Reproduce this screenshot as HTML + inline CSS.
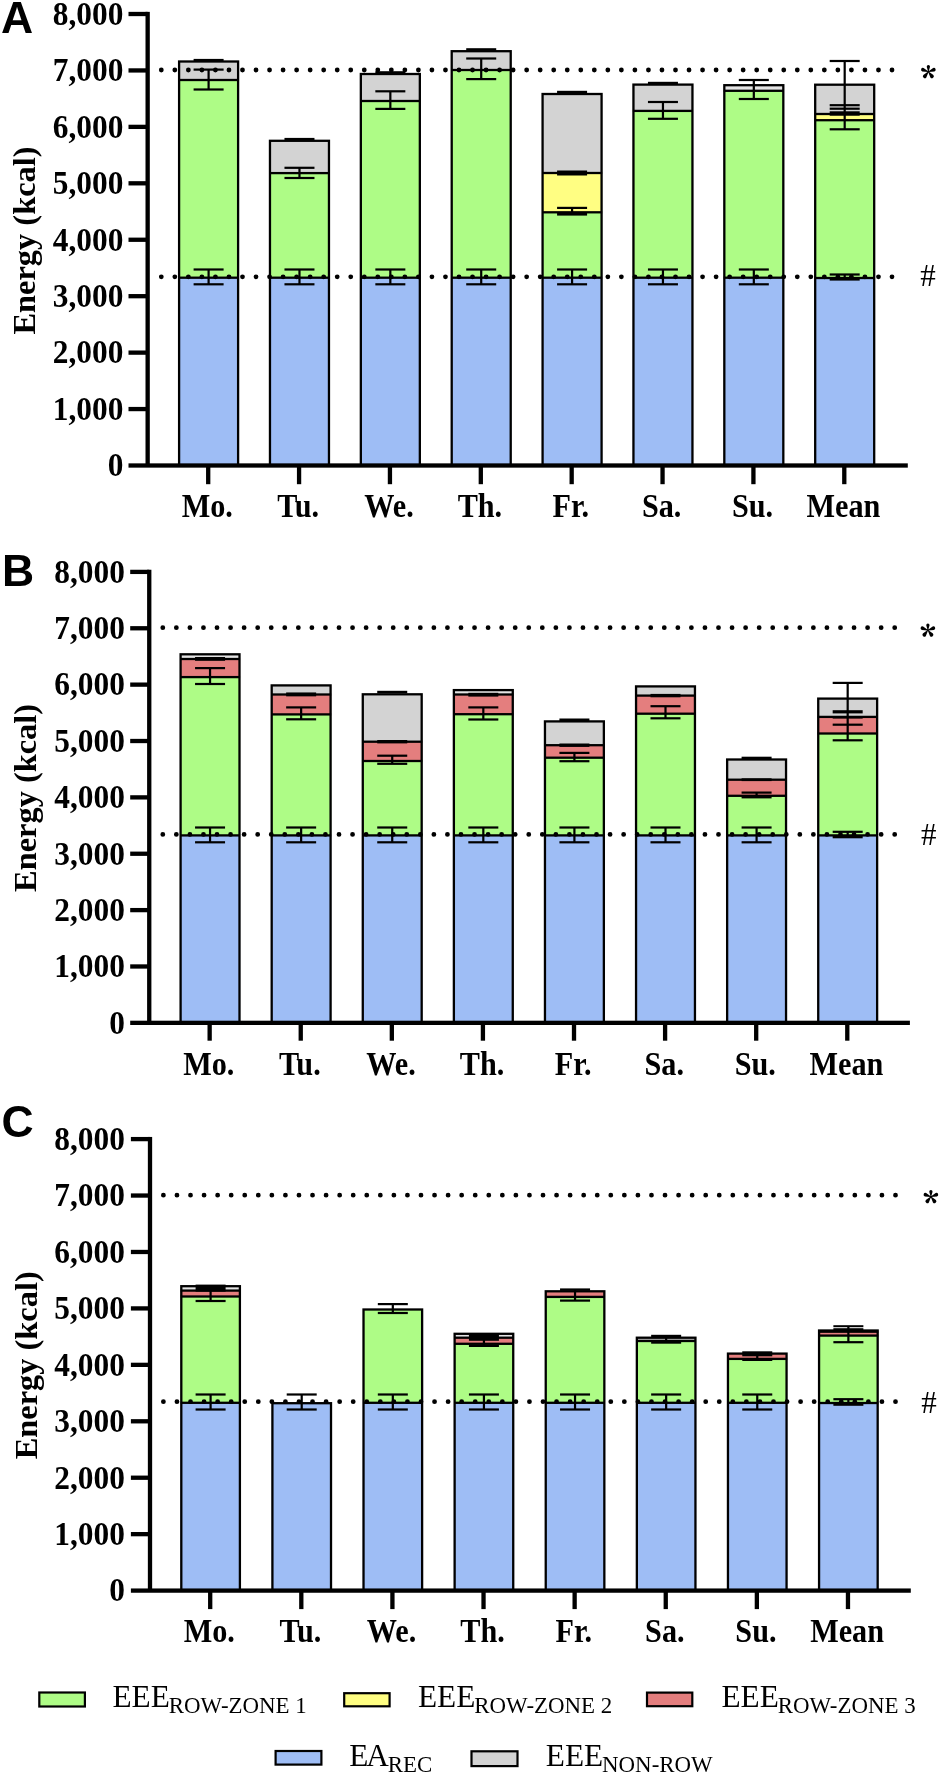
<!DOCTYPE html>
<html><head><meta charset="utf-8"><style>
html,body{margin:0;padding:0;background:#fff;}
svg{display:block;will-change:transform;}
.tl{font-family:"Liberation Serif",serif;font-weight:bold;font-size:32px;}
.xl{font-family:"Liberation Serif",serif;font-weight:bold;font-size:32px;}
.yt{font-family:"Liberation Serif",serif;font-weight:bold;font-size:32.4px;}
.pl{font-family:"Liberation Sans",sans-serif;font-weight:bold;font-size:44.5px;}
.sy{font-family:"Liberation Serif",serif;font-size:31px;}
.lg{font-family:"Liberation Serif",serif;font-size:31.3px;}
.lgs{font-size:22.9px;}
</style></head><body>
<svg width="941" height="1776" viewBox="0 0 941 1776">
<rect x="0" y="0" width="941" height="1776" fill="#fff"/>
<rect x="178.55" y="277.7" width="60.1" height="187.8" fill="#9ebdf5"/>
<rect x="178.55" y="80" width="60.1" height="197.7" fill="#aefc86"/>
<rect x="178.55" y="61.5" width="60.1" height="18.5" fill="#d3d3d3"/>
<rect x="178.55" y="276.55" width="60.1" height="2.3" fill="#000"/>
<rect x="178.55" y="78.85" width="60.1" height="2.3" fill="#000"/>
<rect x="179.1" y="61.5" width="59" height="404" fill="none" stroke="#000" stroke-width="2.3"/>
<rect x="207.5" y="69.6" width="2.2" height="19.9" fill="#000"/>
<rect x="207.5" y="269.5" width="2.2" height="14.8" fill="#000"/>
<rect x="193.6" y="58.9" width="30" height="2.6" fill="#000"/>
<rect x="193.6" y="68.5" width="30" height="2.2" fill="#000"/>
<rect x="193.6" y="88.4" width="30" height="2.2" fill="#000"/>
<rect x="193.6" y="268.4" width="30" height="2.2" fill="#000"/>
<rect x="193.6" y="283.2" width="30" height="2.2" fill="#000"/>
<rect x="269.42" y="277.7" width="60.1" height="187.8" fill="#9ebdf5"/>
<rect x="269.42" y="173.1" width="60.1" height="104.6" fill="#aefc86"/>
<rect x="269.42" y="140.8" width="60.1" height="32.3" fill="#d3d3d3"/>
<rect x="269.42" y="276.55" width="60.1" height="2.3" fill="#000"/>
<rect x="269.42" y="171.95" width="60.1" height="2.3" fill="#000"/>
<rect x="269.97" y="140.8" width="59" height="324.7" fill="none" stroke="#000" stroke-width="2.3"/>
<rect x="298.37" y="167.8" width="2.2" height="10.2" fill="#000"/>
<rect x="298.37" y="269.5" width="2.2" height="14.8" fill="#000"/>
<rect x="284.47" y="137.9" width="30" height="2.6" fill="#000"/>
<rect x="284.47" y="166.7" width="30" height="2.2" fill="#000"/>
<rect x="284.47" y="176.9" width="30" height="2.2" fill="#000"/>
<rect x="284.47" y="268.4" width="30" height="2.2" fill="#000"/>
<rect x="284.47" y="283.2" width="30" height="2.2" fill="#000"/>
<rect x="360.29" y="277.7" width="60.1" height="187.8" fill="#9ebdf5"/>
<rect x="360.29" y="101" width="60.1" height="176.7" fill="#aefc86"/>
<rect x="360.29" y="74" width="60.1" height="27" fill="#d3d3d3"/>
<rect x="360.29" y="276.55" width="60.1" height="2.3" fill="#000"/>
<rect x="360.29" y="99.85" width="60.1" height="2.3" fill="#000"/>
<rect x="360.84" y="74" width="59" height="391.5" fill="none" stroke="#000" stroke-width="2.3"/>
<rect x="389.24" y="91.3" width="2.2" height="17.6" fill="#000"/>
<rect x="389.24" y="269.5" width="2.2" height="14.8" fill="#000"/>
<rect x="375.34" y="71.2" width="30" height="2.6" fill="#000"/>
<rect x="375.34" y="90.2" width="30" height="2.2" fill="#000"/>
<rect x="375.34" y="107.8" width="30" height="2.2" fill="#000"/>
<rect x="375.34" y="268.4" width="30" height="2.2" fill="#000"/>
<rect x="375.34" y="283.2" width="30" height="2.2" fill="#000"/>
<rect x="451.16" y="277.7" width="60.1" height="187.8" fill="#9ebdf5"/>
<rect x="451.16" y="70" width="60.1" height="207.7" fill="#aefc86"/>
<rect x="451.16" y="51.2" width="60.1" height="18.8" fill="#d3d3d3"/>
<rect x="451.16" y="276.55" width="60.1" height="2.3" fill="#000"/>
<rect x="451.16" y="68.85" width="60.1" height="2.3" fill="#000"/>
<rect x="451.71" y="51.2" width="59" height="414.3" fill="none" stroke="#000" stroke-width="2.3"/>
<rect x="480.11" y="58.5" width="2.2" height="20.6" fill="#000"/>
<rect x="480.11" y="269.5" width="2.2" height="14.8" fill="#000"/>
<rect x="466.21" y="48.2" width="30" height="2.6" fill="#000"/>
<rect x="466.21" y="57.4" width="30" height="2.2" fill="#000"/>
<rect x="466.21" y="78" width="30" height="2.2" fill="#000"/>
<rect x="466.21" y="268.4" width="30" height="2.2" fill="#000"/>
<rect x="466.21" y="283.2" width="30" height="2.2" fill="#000"/>
<rect x="542.03" y="277.7" width="60.1" height="187.8" fill="#9ebdf5"/>
<rect x="542.03" y="212.3" width="60.1" height="65.4" fill="#aefc86"/>
<rect x="542.03" y="173" width="60.1" height="39.3" fill="#fffe82"/>
<rect x="542.03" y="94" width="60.1" height="79" fill="#d3d3d3"/>
<rect x="542.03" y="276.55" width="60.1" height="2.3" fill="#000"/>
<rect x="542.03" y="211.15" width="60.1" height="2.3" fill="#000"/>
<rect x="542.03" y="171.85" width="60.1" height="2.3" fill="#000"/>
<rect x="542.58" y="94" width="59" height="371.5" fill="none" stroke="#000" stroke-width="2.3"/>
<rect x="570.98" y="207.9" width="2.2" height="6.2" fill="#000"/>
<rect x="570.98" y="269.5" width="2.2" height="14.8" fill="#000"/>
<rect x="557.08" y="90.8" width="30" height="3.6" fill="#000"/>
<rect x="557.08" y="170.5" width="30" height="5" fill="#000"/>
<rect x="557.08" y="206.8" width="30" height="2.2" fill="#000"/>
<rect x="557.08" y="212.6" width="30" height="3" fill="#000"/>
<rect x="557.08" y="268.4" width="30" height="2.2" fill="#000"/>
<rect x="557.08" y="283.2" width="30" height="2.2" fill="#000"/>
<rect x="632.9" y="277.7" width="60.1" height="187.8" fill="#9ebdf5"/>
<rect x="632.9" y="110.9" width="60.1" height="166.8" fill="#aefc86"/>
<rect x="632.9" y="84.6" width="60.1" height="26.3" fill="#d3d3d3"/>
<rect x="632.9" y="276.55" width="60.1" height="2.3" fill="#000"/>
<rect x="632.9" y="109.75" width="60.1" height="2.3" fill="#000"/>
<rect x="633.45" y="84.6" width="59" height="380.9" fill="none" stroke="#000" stroke-width="2.3"/>
<rect x="661.85" y="102" width="2.2" height="16.8" fill="#000"/>
<rect x="661.85" y="269.5" width="2.2" height="14.8" fill="#000"/>
<rect x="647.95" y="81.8" width="30" height="2.6" fill="#000"/>
<rect x="647.95" y="100.9" width="30" height="2.2" fill="#000"/>
<rect x="647.95" y="117.7" width="30" height="2.2" fill="#000"/>
<rect x="647.95" y="268.4" width="30" height="2.2" fill="#000"/>
<rect x="647.95" y="283.2" width="30" height="2.2" fill="#000"/>
<rect x="723.77" y="277.7" width="60.1" height="187.8" fill="#9ebdf5"/>
<rect x="723.77" y="90.8" width="60.1" height="186.9" fill="#aefc86"/>
<rect x="723.77" y="85.2" width="60.1" height="5.6" fill="#e4e4e4"/>
<rect x="723.77" y="276.55" width="60.1" height="2.3" fill="#000"/>
<rect x="723.77" y="89.65" width="60.1" height="2.3" fill="#000"/>
<rect x="724.32" y="85.2" width="59" height="380.3" fill="none" stroke="#000" stroke-width="2.3"/>
<rect x="752.72" y="80" width="2.2" height="19" fill="#000"/>
<rect x="752.72" y="269.5" width="2.2" height="14.8" fill="#000"/>
<rect x="738.82" y="78.9" width="30" height="2.2" fill="#000"/>
<rect x="738.82" y="97.9" width="30" height="2.2" fill="#000"/>
<rect x="738.82" y="268.4" width="30" height="2.2" fill="#000"/>
<rect x="738.82" y="283.2" width="30" height="2.2" fill="#000"/>
<rect x="814.64" y="278" width="60.1" height="187.5" fill="#9ebdf5"/>
<rect x="814.64" y="120.2" width="60.1" height="157.8" fill="#aefc86"/>
<rect x="814.64" y="114" width="60.1" height="6.2" fill="#fffe82"/>
<rect x="814.64" y="84.7" width="60.1" height="29.3" fill="#d3d3d3"/>
<rect x="814.64" y="276.85" width="60.1" height="2.3" fill="#000"/>
<rect x="814.64" y="119.05" width="60.1" height="2.3" fill="#000"/>
<rect x="814.64" y="112.85" width="60.1" height="2.3" fill="#000"/>
<rect x="815.19" y="84.7" width="59" height="380.8" fill="none" stroke="#000" stroke-width="2.3"/>
<rect x="843.59" y="61" width="2.2" height="68.3" fill="#000"/>
<rect x="843.59" y="274.5" width="2.2" height="4.8" fill="#000"/>
<rect x="829.69" y="59.9" width="30" height="2.2" fill="#000"/>
<rect x="829.69" y="104.1" width="30" height="2.2" fill="#000"/>
<rect x="829.69" y="107.6" width="30" height="2.2" fill="#000"/>
<rect x="829.69" y="111.3" width="30" height="4.4" fill="#000"/>
<rect x="829.69" y="128.2" width="30" height="2.2" fill="#000"/>
<rect x="829.69" y="273.4" width="30" height="2.2" fill="#000"/>
<rect x="829.69" y="278" width="30" height="2.6" fill="#000"/>
<path d="M161.3 70h0M174.83 70h0M188.36 70h0M201.89 70h0M215.43 70h0M228.96 70h0M242.49 70h0M256.02 70h0M269.55 70h0M283.08 70h0M296.61 70h0M310.15 70h0M323.68 70h0M337.21 70h0M350.74 70h0M364.27 70h0M377.8 70h0M391.34 70h0M404.87 70h0M418.4 70h0M431.93 70h0M445.46 70h0M458.99 70h0M472.52 70h0M486.06 70h0M499.59 70h0M513.12 70h0M526.65 70h0M540.18 70h0M553.71 70h0M567.24 70h0M580.78 70h0M594.31 70h0M607.84 70h0M621.37 70h0M634.9 70h0M648.43 70h0M661.96 70h0M675.5 70h0M689.03 70h0M702.56 70h0M716.09 70h0M729.62 70h0M743.15 70h0M756.69 70h0M770.22 70h0M783.75 70h0M797.28 70h0M810.81 70h0M824.34 70h0M837.87 70h0M851.41 70h0M864.94 70h0M878.47 70h0M892 70h0" stroke="#000" stroke-width="4.8" stroke-linecap="round"/>
<path d="M161.3 276.8h0M174.83 276.8h0M188.36 276.8h0M201.89 276.8h0M215.43 276.8h0M228.96 276.8h0M242.49 276.8h0M256.02 276.8h0M269.55 276.8h0M283.08 276.8h0M296.61 276.8h0M310.15 276.8h0M323.68 276.8h0M337.21 276.8h0M350.74 276.8h0M364.27 276.8h0M377.8 276.8h0M391.34 276.8h0M404.87 276.8h0M418.4 276.8h0M431.93 276.8h0M445.46 276.8h0M458.99 276.8h0M472.52 276.8h0M486.06 276.8h0M499.59 276.8h0M513.12 276.8h0M526.65 276.8h0M540.18 276.8h0M553.71 276.8h0M567.24 276.8h0M580.78 276.8h0M594.31 276.8h0M607.84 276.8h0M621.37 276.8h0M634.9 276.8h0M648.43 276.8h0M661.96 276.8h0M675.5 276.8h0M689.03 276.8h0M702.56 276.8h0M716.09 276.8h0M729.62 276.8h0M743.15 276.8h0M756.69 276.8h0M770.22 276.8h0M783.75 276.8h0M797.28 276.8h0M810.81 276.8h0M824.34 276.8h0M837.87 276.8h0M851.41 276.8h0M864.94 276.8h0M878.47 276.8h0M892 276.8h0" stroke="#000" stroke-width="4.8" stroke-linecap="round"/>
<rect x="145.5" y="11.85" width="4.3" height="453.65" fill="#000"/>
<rect x="128.5" y="463.35" width="779.3" height="4.3" fill="#000"/>
<rect x="128.5" y="406.91" width="19.15" height="4.3" fill="#000"/>
<rect x="128.5" y="350.48" width="19.15" height="4.3" fill="#000"/>
<rect x="128.5" y="294.04" width="19.15" height="4.3" fill="#000"/>
<rect x="128.5" y="237.6" width="19.15" height="4.3" fill="#000"/>
<rect x="128.5" y="181.16" width="19.15" height="4.3" fill="#000"/>
<rect x="128.5" y="124.72" width="19.15" height="4.3" fill="#000"/>
<rect x="128.5" y="68.29" width="19.15" height="4.3" fill="#000"/>
<rect x="128.5" y="11.85" width="19.15" height="4.3" fill="#000"/>
<text class="tl" x="0" y="0" text-anchor="end" transform="translate(123.4 476.3) scale(0.98 1.035)">0</text>
<text class="tl" x="0" y="0" text-anchor="end" transform="translate(123.4 419.86) scale(0.98 1.035)">1,000</text>
<text class="tl" x="0" y="0" text-anchor="end" transform="translate(123.4 363.43) scale(0.98 1.035)">2,000</text>
<text class="tl" x="0" y="0" text-anchor="end" transform="translate(123.4 306.99) scale(0.98 1.035)">3,000</text>
<text class="tl" x="0" y="0" text-anchor="end" transform="translate(123.4 250.55) scale(0.98 1.035)">4,000</text>
<text class="tl" x="0" y="0" text-anchor="end" transform="translate(123.4 194.11) scale(0.98 1.035)">5,000</text>
<text class="tl" x="0" y="0" text-anchor="end" transform="translate(123.4 137.68) scale(0.98 1.035)">6,000</text>
<text class="tl" x="0" y="0" text-anchor="end" transform="translate(123.4 81.24) scale(0.98 1.035)">7,000</text>
<text class="tl" x="0" y="0" text-anchor="end" transform="translate(123.4 24.8) scale(0.98 1.035)">8,000</text>
<rect x="206.05" y="465.5" width="4.3" height="18.7" fill="#000"/>
<text class="xl" x="0" y="0" text-anchor="middle" transform="translate(207.3 516.9) scale(0.945 1.035)">Mo.</text>
<rect x="296.92" y="465.5" width="4.3" height="18.7" fill="#000"/>
<text class="xl" x="0" y="0" text-anchor="middle" transform="translate(298.17 516.9) scale(0.945 1.035)">Tu.</text>
<rect x="387.79" y="465.5" width="4.3" height="18.7" fill="#000"/>
<text class="xl" x="0" y="0" text-anchor="middle" transform="translate(389.04 516.9) scale(0.945 1.035)">We.</text>
<rect x="478.66" y="465.5" width="4.3" height="18.7" fill="#000"/>
<text class="xl" x="0" y="0" text-anchor="middle" transform="translate(479.91 516.9) scale(0.945 1.035)">Th.</text>
<rect x="569.53" y="465.5" width="4.3" height="18.7" fill="#000"/>
<text class="xl" x="0" y="0" text-anchor="middle" transform="translate(570.78 516.9) scale(0.945 1.035)">Fr.</text>
<rect x="660.4" y="465.5" width="4.3" height="18.7" fill="#000"/>
<text class="xl" x="0" y="0" text-anchor="middle" transform="translate(661.65 516.9) scale(0.945 1.035)">Sa.</text>
<rect x="751.27" y="465.5" width="4.3" height="18.7" fill="#000"/>
<text class="xl" x="0" y="0" text-anchor="middle" transform="translate(752.52 516.9) scale(0.945 1.035)">Su.</text>
<rect x="842.14" y="465.5" width="4.3" height="18.7" fill="#000"/>
<text class="xl" x="0" y="0" text-anchor="middle" transform="translate(843.39 516.9) scale(0.945 1.035)">Mean</text>
<text class="yt" x="0" y="0" text-anchor="middle" transform="translate(34.6 240.5) rotate(-90)">Energy (kcal)</text>
<text class="pl" x="1" y="33">A</text>
<path d="M928.62 71.73L930.02 66.73A1.65 1.65 0 0 0 928.37 65.08A1.65 1.65 0 0 0 926.72 66.73L928.12 71.73ZM928.46 71.96L934.42 71.55A1.9 1.9 0 0 0 935.56 69.11A1.9 1.9 0 0 0 933.12 67.98L928.28 71.5ZM928.46 71.5L923.62 67.98A1.9 1.9 0 0 0 921.18 69.11A1.9 1.9 0 0 0 922.32 71.55L928.28 71.96ZM928.17 71.88L930.41 77.43A1.9 1.9 0 0 0 933.08 77.76A1.9 1.9 0 0 0 933.41 75.09L928.57 71.58ZM928.17 71.58L923.33 75.09A1.9 1.9 0 0 0 923.66 77.76A1.9 1.9 0 0 0 926.33 77.43L928.57 71.88Z" fill="#000"/>
<text class="sy" x="928" y="285.5" text-anchor="middle">#</text>
<rect x="180.05" y="835.4" width="60" height="187.45" fill="#9ebdf5"/>
<rect x="180.05" y="677.1" width="60" height="158.3" fill="#aefc86"/>
<rect x="180.05" y="659" width="60" height="18.1" fill="#e47e7e"/>
<rect x="180.05" y="654.3" width="60" height="4.7" fill="#e4e4e4"/>
<rect x="180.05" y="834.25" width="60" height="2.3" fill="#000"/>
<rect x="180.05" y="675.95" width="60" height="2.3" fill="#000"/>
<rect x="180.05" y="657.85" width="60" height="2.3" fill="#000"/>
<rect x="180.6" y="654.3" width="58.9" height="368.55" fill="none" stroke="#000" stroke-width="2.3"/>
<rect x="208.95" y="668.1" width="2.2" height="15.9" fill="#000"/>
<rect x="208.95" y="827.5" width="2.2" height="14.8" fill="#000"/>
<rect x="195.05" y="657" width="30" height="3.8" fill="#000"/>
<rect x="195.05" y="667" width="30" height="2.2" fill="#000"/>
<rect x="195.05" y="682.9" width="30" height="2.2" fill="#000"/>
<rect x="195.05" y="826.4" width="30" height="2.2" fill="#000"/>
<rect x="195.05" y="841.2" width="30" height="2.2" fill="#000"/>
<rect x="271.14" y="835.4" width="60" height="187.45" fill="#9ebdf5"/>
<rect x="271.14" y="714.4" width="60" height="121" fill="#aefc86"/>
<rect x="271.14" y="694.5" width="60" height="19.9" fill="#e47e7e"/>
<rect x="271.14" y="685.4" width="60" height="9.1" fill="#d3d3d3"/>
<rect x="271.14" y="834.25" width="60" height="2.3" fill="#000"/>
<rect x="271.14" y="713.25" width="60" height="2.3" fill="#000"/>
<rect x="271.14" y="693.35" width="60" height="2.3" fill="#000"/>
<rect x="271.69" y="685.4" width="58.9" height="337.45" fill="none" stroke="#000" stroke-width="2.3"/>
<rect x="300.04" y="707.4" width="2.2" height="11.9" fill="#000"/>
<rect x="300.04" y="827.5" width="2.2" height="14.8" fill="#000"/>
<rect x="286.14" y="692.45" width="30" height="3.9" fill="#000"/>
<rect x="286.14" y="706.3" width="30" height="2.2" fill="#000"/>
<rect x="286.14" y="718.2" width="30" height="2.2" fill="#000"/>
<rect x="286.14" y="826.4" width="30" height="2.2" fill="#000"/>
<rect x="286.14" y="841.2" width="30" height="2.2" fill="#000"/>
<rect x="362.23" y="835.4" width="60" height="187.45" fill="#9ebdf5"/>
<rect x="362.23" y="761" width="60" height="74.4" fill="#aefc86"/>
<rect x="362.23" y="741.7" width="60" height="19.3" fill="#e47e7e"/>
<rect x="362.23" y="694.3" width="60" height="47.4" fill="#d3d3d3"/>
<rect x="362.23" y="834.25" width="60" height="2.3" fill="#000"/>
<rect x="362.23" y="759.85" width="60" height="2.3" fill="#000"/>
<rect x="362.23" y="740.55" width="60" height="2.3" fill="#000"/>
<rect x="362.78" y="694.3" width="58.9" height="328.55" fill="none" stroke="#000" stroke-width="2.3"/>
<rect x="391.13" y="755.7" width="2.2" height="8.1" fill="#000"/>
<rect x="391.13" y="827.5" width="2.2" height="14.8" fill="#000"/>
<rect x="377.23" y="690.8" width="30" height="2.6" fill="#000"/>
<rect x="377.23" y="740" width="30" height="3.4" fill="#000"/>
<rect x="377.23" y="754.6" width="30" height="2.2" fill="#000"/>
<rect x="377.23" y="762.7" width="30" height="2.2" fill="#000"/>
<rect x="377.23" y="826.4" width="30" height="2.2" fill="#000"/>
<rect x="377.23" y="841.2" width="30" height="2.2" fill="#000"/>
<rect x="453.32" y="835.4" width="60" height="187.45" fill="#9ebdf5"/>
<rect x="453.32" y="714.2" width="60" height="121.2" fill="#aefc86"/>
<rect x="453.32" y="694.5" width="60" height="19.7" fill="#e47e7e"/>
<rect x="453.32" y="690.1" width="60" height="4.4" fill="#e4e4e4"/>
<rect x="453.32" y="834.25" width="60" height="2.3" fill="#000"/>
<rect x="453.32" y="713.05" width="60" height="2.3" fill="#000"/>
<rect x="453.32" y="693.35" width="60" height="2.3" fill="#000"/>
<rect x="453.87" y="690.1" width="58.9" height="332.75" fill="none" stroke="#000" stroke-width="2.3"/>
<rect x="482.22" y="707.4" width="2.2" height="12.1" fill="#000"/>
<rect x="482.22" y="827.5" width="2.2" height="14.8" fill="#000"/>
<rect x="468.32" y="692.8" width="30" height="3.8" fill="#000"/>
<rect x="468.32" y="706.3" width="30" height="2.2" fill="#000"/>
<rect x="468.32" y="718.4" width="30" height="2.2" fill="#000"/>
<rect x="468.32" y="826.4" width="30" height="2.2" fill="#000"/>
<rect x="468.32" y="841.2" width="30" height="2.2" fill="#000"/>
<rect x="544.41" y="835.4" width="60" height="187.45" fill="#9ebdf5"/>
<rect x="544.41" y="757.7" width="60" height="77.7" fill="#aefc86"/>
<rect x="544.41" y="745.2" width="60" height="12.5" fill="#e47e7e"/>
<rect x="544.41" y="721.4" width="60" height="23.8" fill="#d3d3d3"/>
<rect x="544.41" y="834.25" width="60" height="2.3" fill="#000"/>
<rect x="544.41" y="756.55" width="60" height="2.3" fill="#000"/>
<rect x="544.41" y="744.05" width="60" height="2.3" fill="#000"/>
<rect x="544.96" y="721.4" width="58.9" height="301.45" fill="none" stroke="#000" stroke-width="2.3"/>
<rect x="573.31" y="752.9" width="2.2" height="8.3" fill="#000"/>
<rect x="573.31" y="827.5" width="2.2" height="14.8" fill="#000"/>
<rect x="559.41" y="718.5" width="30" height="2.6" fill="#000"/>
<rect x="559.41" y="743.5" width="30" height="3.4" fill="#000"/>
<rect x="559.41" y="751.8" width="30" height="2.2" fill="#000"/>
<rect x="559.41" y="760.1" width="30" height="2.2" fill="#000"/>
<rect x="559.41" y="826.4" width="30" height="2.2" fill="#000"/>
<rect x="559.41" y="841.2" width="30" height="2.2" fill="#000"/>
<rect x="635.5" y="835.4" width="60" height="187.45" fill="#9ebdf5"/>
<rect x="635.5" y="713.7" width="60" height="121.7" fill="#aefc86"/>
<rect x="635.5" y="695.6" width="60" height="18.1" fill="#e47e7e"/>
<rect x="635.5" y="686.4" width="60" height="9.2" fill="#d3d3d3"/>
<rect x="635.5" y="834.25" width="60" height="2.3" fill="#000"/>
<rect x="635.5" y="712.55" width="60" height="2.3" fill="#000"/>
<rect x="635.5" y="694.45" width="60" height="2.3" fill="#000"/>
<rect x="636.05" y="686.4" width="58.9" height="336.45" fill="none" stroke="#000" stroke-width="2.3"/>
<rect x="664.4" y="706.2" width="2.2" height="12.1" fill="#000"/>
<rect x="664.4" y="827.5" width="2.2" height="14.8" fill="#000"/>
<rect x="650.5" y="693.9" width="30" height="3.4" fill="#000"/>
<rect x="650.5" y="705.1" width="30" height="2.2" fill="#000"/>
<rect x="650.5" y="717.2" width="30" height="2.2" fill="#000"/>
<rect x="650.5" y="826.4" width="30" height="2.2" fill="#000"/>
<rect x="650.5" y="841.2" width="30" height="2.2" fill="#000"/>
<rect x="726.59" y="835.4" width="60" height="187.45" fill="#9ebdf5"/>
<rect x="726.59" y="795.8" width="60" height="39.6" fill="#aefc86"/>
<rect x="726.59" y="779.7" width="60" height="16.1" fill="#e47e7e"/>
<rect x="726.59" y="759.5" width="60" height="20.2" fill="#d3d3d3"/>
<rect x="726.59" y="834.25" width="60" height="2.3" fill="#000"/>
<rect x="726.59" y="794.65" width="60" height="2.3" fill="#000"/>
<rect x="726.59" y="778.55" width="60" height="2.3" fill="#000"/>
<rect x="727.14" y="759.5" width="58.9" height="263.35" fill="none" stroke="#000" stroke-width="2.3"/>
<rect x="755.49" y="792.6" width="2.2" height="4.7" fill="#000"/>
<rect x="755.49" y="827.5" width="2.2" height="14.8" fill="#000"/>
<rect x="741.59" y="756.7" width="30" height="2.6" fill="#000"/>
<rect x="741.59" y="778.3" width="30" height="2.8" fill="#000"/>
<rect x="741.59" y="791.5" width="30" height="2.2" fill="#000"/>
<rect x="741.59" y="796.2" width="30" height="2.2" fill="#000"/>
<rect x="741.59" y="826.4" width="30" height="2.2" fill="#000"/>
<rect x="741.59" y="841.2" width="30" height="2.2" fill="#000"/>
<rect x="817.68" y="835.4" width="60" height="187.45" fill="#9ebdf5"/>
<rect x="817.68" y="733.5" width="60" height="101.9" fill="#aefc86"/>
<rect x="817.68" y="716.9" width="60" height="16.6" fill="#e47e7e"/>
<rect x="817.68" y="698.6" width="60" height="18.3" fill="#d3d3d3"/>
<rect x="817.68" y="834.25" width="60" height="2.3" fill="#000"/>
<rect x="817.68" y="732.35" width="60" height="2.3" fill="#000"/>
<rect x="817.68" y="715.75" width="60" height="2.3" fill="#000"/>
<rect x="818.23" y="698.6" width="58.9" height="324.25" fill="none" stroke="#000" stroke-width="2.3"/>
<rect x="846.58" y="682.9" width="2.2" height="57.4" fill="#000"/>
<rect x="846.58" y="831.8" width="2.2" height="5.2" fill="#000"/>
<rect x="832.68" y="681.8" width="30" height="2.2" fill="#000"/>
<rect x="832.68" y="710.2" width="30" height="3.2" fill="#000"/>
<rect x="832.68" y="716" width="30" height="2.6" fill="#000"/>
<rect x="832.68" y="723.6" width="30" height="2.2" fill="#000"/>
<rect x="832.68" y="739.2" width="30" height="2.2" fill="#000"/>
<rect x="832.68" y="830.7" width="30" height="2.2" fill="#000"/>
<rect x="832.68" y="835.7" width="30" height="2.6" fill="#000"/>
<path d="M162.8 627.7h0M176.35 627.7h0M189.91 627.7h0M203.46 627.7h0M217.01 627.7h0M230.57 627.7h0M244.12 627.7h0M257.68 627.7h0M271.23 627.7h0M284.78 627.7h0M298.34 627.7h0M311.89 627.7h0M325.44 627.7h0M339 627.7h0M352.55 627.7h0M366.11 627.7h0M379.66 627.7h0M393.21 627.7h0M406.77 627.7h0M420.32 627.7h0M433.87 627.7h0M447.43 627.7h0M460.98 627.7h0M474.54 627.7h0M488.09 627.7h0M501.64 627.7h0M515.2 627.7h0M528.75 627.7h0M542.3 627.7h0M555.86 627.7h0M569.41 627.7h0M582.96 627.7h0M596.52 627.7h0M610.07 627.7h0M623.63 627.7h0M637.18 627.7h0M650.73 627.7h0M664.29 627.7h0M677.84 627.7h0M691.39 627.7h0M704.95 627.7h0M718.5 627.7h0M732.06 627.7h0M745.61 627.7h0M759.16 627.7h0M772.72 627.7h0M786.27 627.7h0M799.82 627.7h0M813.38 627.7h0M826.93 627.7h0M840.49 627.7h0M854.04 627.7h0M867.59 627.7h0M881.15 627.7h0M894.7 627.7h0" stroke="#000" stroke-width="4.8" stroke-linecap="round"/>
<path d="M162.8 834.4h0M176.35 834.4h0M189.91 834.4h0M203.46 834.4h0M217.01 834.4h0M230.57 834.4h0M244.12 834.4h0M257.68 834.4h0M271.23 834.4h0M284.78 834.4h0M298.34 834.4h0M311.89 834.4h0M325.44 834.4h0M339 834.4h0M352.55 834.4h0M366.11 834.4h0M379.66 834.4h0M393.21 834.4h0M406.77 834.4h0M420.32 834.4h0M433.87 834.4h0M447.43 834.4h0M460.98 834.4h0M474.54 834.4h0M488.09 834.4h0M501.64 834.4h0M515.2 834.4h0M528.75 834.4h0M542.3 834.4h0M555.86 834.4h0M569.41 834.4h0M582.96 834.4h0M596.52 834.4h0M610.07 834.4h0M623.63 834.4h0M637.18 834.4h0M650.73 834.4h0M664.29 834.4h0M677.84 834.4h0M691.39 834.4h0M704.95 834.4h0M718.5 834.4h0M732.06 834.4h0M745.61 834.4h0M759.16 834.4h0M772.72 834.4h0M786.27 834.4h0M799.82 834.4h0M813.38 834.4h0M826.93 834.4h0M840.49 834.4h0M854.04 834.4h0M867.59 834.4h0M881.15 834.4h0M894.7 834.4h0" stroke="#000" stroke-width="4.8" stroke-linecap="round"/>
<rect x="147.1" y="569.75" width="4.3" height="453.1" fill="#000"/>
<rect x="130.2" y="1020.7" width="779.7" height="4.3" fill="#000"/>
<rect x="130.2" y="964.33" width="19.05" height="4.3" fill="#000"/>
<rect x="130.2" y="907.96" width="19.05" height="4.3" fill="#000"/>
<rect x="130.2" y="851.59" width="19.05" height="4.3" fill="#000"/>
<rect x="130.2" y="795.23" width="19.05" height="4.3" fill="#000"/>
<rect x="130.2" y="738.86" width="19.05" height="4.3" fill="#000"/>
<rect x="130.2" y="682.49" width="19.05" height="4.3" fill="#000"/>
<rect x="130.2" y="626.12" width="19.05" height="4.3" fill="#000"/>
<rect x="130.2" y="569.75" width="19.05" height="4.3" fill="#000"/>
<text class="tl" x="0" y="0" text-anchor="end" transform="translate(124.9 1033.65) scale(0.98 1.035)">0</text>
<text class="tl" x="0" y="0" text-anchor="end" transform="translate(124.9 977.28) scale(0.98 1.035)">1,000</text>
<text class="tl" x="0" y="0" text-anchor="end" transform="translate(124.9 920.91) scale(0.98 1.035)">2,000</text>
<text class="tl" x="0" y="0" text-anchor="end" transform="translate(124.9 864.54) scale(0.98 1.035)">3,000</text>
<text class="tl" x="0" y="0" text-anchor="end" transform="translate(124.9 808.17) scale(0.98 1.035)">4,000</text>
<text class="tl" x="0" y="0" text-anchor="end" transform="translate(124.9 751.81) scale(0.98 1.035)">5,000</text>
<text class="tl" x="0" y="0" text-anchor="end" transform="translate(124.9 695.44) scale(0.98 1.035)">6,000</text>
<text class="tl" x="0" y="0" text-anchor="end" transform="translate(124.9 639.07) scale(0.98 1.035)">7,000</text>
<text class="tl" x="0" y="0" text-anchor="end" transform="translate(124.9 582.7) scale(0.98 1.035)">8,000</text>
<rect x="207.5" y="1022.85" width="4.3" height="17.85" fill="#000"/>
<text class="xl" x="0" y="0" text-anchor="middle" transform="translate(208.75 1074.8) scale(0.945 1.035)">Mo.</text>
<rect x="298.59" y="1022.85" width="4.3" height="17.85" fill="#000"/>
<text class="xl" x="0" y="0" text-anchor="middle" transform="translate(299.84 1074.8) scale(0.945 1.035)">Tu.</text>
<rect x="389.68" y="1022.85" width="4.3" height="17.85" fill="#000"/>
<text class="xl" x="0" y="0" text-anchor="middle" transform="translate(390.93 1074.8) scale(0.945 1.035)">We.</text>
<rect x="480.77" y="1022.85" width="4.3" height="17.85" fill="#000"/>
<text class="xl" x="0" y="0" text-anchor="middle" transform="translate(482.02 1074.8) scale(0.945 1.035)">Th.</text>
<rect x="571.86" y="1022.85" width="4.3" height="17.85" fill="#000"/>
<text class="xl" x="0" y="0" text-anchor="middle" transform="translate(573.11 1074.8) scale(0.945 1.035)">Fr.</text>
<rect x="662.95" y="1022.85" width="4.3" height="17.85" fill="#000"/>
<text class="xl" x="0" y="0" text-anchor="middle" transform="translate(664.2 1074.8) scale(0.945 1.035)">Sa.</text>
<rect x="754.04" y="1022.85" width="4.3" height="17.85" fill="#000"/>
<text class="xl" x="0" y="0" text-anchor="middle" transform="translate(755.29 1074.8) scale(0.945 1.035)">Su.</text>
<rect x="845.13" y="1022.85" width="4.3" height="17.85" fill="#000"/>
<text class="xl" x="0" y="0" text-anchor="middle" transform="translate(846.38 1074.8) scale(0.945 1.035)">Mean</text>
<text class="yt" x="0" y="0" text-anchor="middle" transform="translate(36.2 797.9) rotate(-90)">Energy (kcal)</text>
<text class="pl" x="2" y="586">B</text>
<path d="M928.15 630.2L929.55 625.2A1.65 1.65 0 0 0 927.9 623.55A1.65 1.65 0 0 0 926.25 625.2L927.65 630.2ZM927.99 630.43L933.95 630.02A1.9 1.9 0 0 0 935.09 627.58A1.9 1.9 0 0 0 932.65 626.45L927.81 629.97ZM927.99 629.97L923.15 626.45A1.9 1.9 0 0 0 920.71 627.58A1.9 1.9 0 0 0 921.85 630.02L927.81 630.43ZM927.7 630.35L929.94 635.9A1.9 1.9 0 0 0 932.61 636.23A1.9 1.9 0 0 0 932.94 633.56L928.1 630.05ZM927.7 630.05L922.86 633.56A1.9 1.9 0 0 0 923.19 636.23A1.9 1.9 0 0 0 925.86 635.9L928.1 630.35Z" fill="#000"/>
<text class="sy" x="928.8" y="844.8" text-anchor="middle">#</text>
<rect x="180.75" y="1402.8" width="59.7" height="187.8" fill="#9ebdf5"/>
<rect x="180.75" y="1296.5" width="59.7" height="106.3" fill="#aefc86"/>
<rect x="180.75" y="1290.6" width="59.7" height="5.9" fill="#e47e7e"/>
<rect x="180.75" y="1286.2" width="59.7" height="4.4" fill="#e4e4e4"/>
<rect x="180.75" y="1401.65" width="59.7" height="2.3" fill="#000"/>
<rect x="180.75" y="1295.35" width="59.7" height="2.3" fill="#000"/>
<rect x="180.75" y="1289.45" width="59.7" height="2.3" fill="#000"/>
<rect x="181.3" y="1286.2" width="58.6" height="304.4" fill="none" stroke="#000" stroke-width="2.3"/>
<rect x="209.5" y="1288.1" width="2.2" height="12.9" fill="#000"/>
<rect x="209.5" y="1394.5" width="2.2" height="15" fill="#000"/>
<rect x="195.6" y="1284.6" width="30" height="7" fill="#000"/>
<rect x="195.6" y="1299.9" width="30" height="2.2" fill="#000"/>
<rect x="195.6" y="1393.4" width="30" height="2.2" fill="#000"/>
<rect x="195.6" y="1408.4" width="30" height="2.2" fill="#000"/>
<rect x="271.86" y="1403.2" width="59.7" height="187.4" fill="#9ebdf5"/>
<rect x="272.41" y="1403.2" width="58.6" height="187.4" fill="none" stroke="#000" stroke-width="2.3"/>
<rect x="300.61" y="1394.5" width="2.2" height="15" fill="#000"/>
<rect x="286.71" y="1393.4" width="30" height="2.2" fill="#000"/>
<rect x="286.71" y="1408.4" width="30" height="2.2" fill="#000"/>
<rect x="362.97" y="1402.8" width="59.7" height="187.8" fill="#9ebdf5"/>
<rect x="362.97" y="1309.5" width="59.7" height="93.3" fill="#aefc86"/>
<rect x="362.97" y="1401.65" width="59.7" height="2.3" fill="#000"/>
<rect x="363.52" y="1309.5" width="58.6" height="281.1" fill="none" stroke="#000" stroke-width="2.3"/>
<rect x="391.72" y="1304.1" width="2.2" height="8.9" fill="#000"/>
<rect x="391.72" y="1394.5" width="2.2" height="15" fill="#000"/>
<rect x="377.82" y="1303" width="30" height="2.2" fill="#000"/>
<rect x="377.82" y="1311.9" width="30" height="2.2" fill="#000"/>
<rect x="377.82" y="1393.4" width="30" height="2.2" fill="#000"/>
<rect x="377.82" y="1408.4" width="30" height="2.2" fill="#000"/>
<rect x="454.08" y="1402.8" width="59.7" height="187.8" fill="#9ebdf5"/>
<rect x="454.08" y="1343.8" width="59.7" height="59" fill="#aefc86"/>
<rect x="454.08" y="1337.7" width="59.7" height="6.1" fill="#e47e7e"/>
<rect x="454.08" y="1333.8" width="59.7" height="3.9" fill="#e4e4e4"/>
<rect x="454.08" y="1401.65" width="59.7" height="2.3" fill="#000"/>
<rect x="454.08" y="1342.65" width="59.7" height="2.3" fill="#000"/>
<rect x="454.08" y="1336.55" width="59.7" height="2.3" fill="#000"/>
<rect x="454.63" y="1333.8" width="58.6" height="256.8" fill="none" stroke="#000" stroke-width="2.3"/>
<rect x="482.83" y="1334" width="2.2" height="12" fill="#000"/>
<rect x="482.83" y="1394.5" width="2.2" height="15" fill="#000"/>
<rect x="468.93" y="1333.6" width="30" height="7.2" fill="#000"/>
<rect x="468.93" y="1344.6" width="30" height="2.4" fill="#000"/>
<rect x="468.93" y="1393.4" width="30" height="2.2" fill="#000"/>
<rect x="468.93" y="1408.4" width="30" height="2.2" fill="#000"/>
<rect x="545.19" y="1402.8" width="59.7" height="187.8" fill="#9ebdf5"/>
<rect x="545.19" y="1296.9" width="59.7" height="105.9" fill="#aefc86"/>
<rect x="545.19" y="1291.3" width="59.7" height="5.6" fill="#e47e7e"/>
<rect x="545.19" y="1401.65" width="59.7" height="2.3" fill="#000"/>
<rect x="545.19" y="1295.75" width="59.7" height="2.3" fill="#000"/>
<rect x="545.74" y="1291.3" width="58.6" height="299.3" fill="none" stroke="#000" stroke-width="2.3"/>
<rect x="573.94" y="1289.6" width="2.2" height="11" fill="#000"/>
<rect x="573.94" y="1394.5" width="2.2" height="15" fill="#000"/>
<rect x="560.04" y="1288.4" width="30" height="2.4" fill="#000"/>
<rect x="560.04" y="1299.5" width="30" height="2.2" fill="#000"/>
<rect x="560.04" y="1393.4" width="30" height="2.2" fill="#000"/>
<rect x="560.04" y="1408.4" width="30" height="2.2" fill="#000"/>
<rect x="636.3" y="1402.8" width="59.7" height="187.8" fill="#9ebdf5"/>
<rect x="636.3" y="1341" width="59.7" height="61.8" fill="#aefc86"/>
<rect x="636.3" y="1337.7" width="59.7" height="3.3" fill="#b4b4b4"/>
<rect x="636.3" y="1401.65" width="59.7" height="2.3" fill="#000"/>
<rect x="636.3" y="1339.85" width="59.7" height="2.3" fill="#000"/>
<rect x="636.85" y="1337.7" width="58.6" height="252.9" fill="none" stroke="#000" stroke-width="2.3"/>
<rect x="665.05" y="1336" width="2.2" height="6.7" fill="#000"/>
<rect x="665.05" y="1394.5" width="2.2" height="15" fill="#000"/>
<rect x="651.15" y="1334.8" width="30" height="2.4" fill="#000"/>
<rect x="651.15" y="1341.7" width="30" height="2" fill="#000"/>
<rect x="651.15" y="1393.4" width="30" height="2.2" fill="#000"/>
<rect x="651.15" y="1408.4" width="30" height="2.2" fill="#000"/>
<rect x="727.41" y="1402.8" width="59.7" height="187.8" fill="#9ebdf5"/>
<rect x="727.41" y="1358.9" width="59.7" height="43.9" fill="#aefc86"/>
<rect x="727.41" y="1353.6" width="59.7" height="5.3" fill="#e47e7e"/>
<rect x="727.41" y="1401.65" width="59.7" height="2.3" fill="#000"/>
<rect x="727.41" y="1357.75" width="59.7" height="2.3" fill="#000"/>
<rect x="727.96" y="1353.6" width="58.6" height="237" fill="none" stroke="#000" stroke-width="2.3"/>
<rect x="756.16" y="1353.6" width="2.2" height="6.4" fill="#000"/>
<rect x="756.16" y="1394.5" width="2.2" height="15" fill="#000"/>
<rect x="742.26" y="1351.3" width="30" height="5" fill="#000"/>
<rect x="742.26" y="1359" width="30" height="2" fill="#000"/>
<rect x="742.26" y="1393.4" width="30" height="2.2" fill="#000"/>
<rect x="742.26" y="1408.4" width="30" height="2.2" fill="#000"/>
<rect x="818.52" y="1403" width="59.7" height="187.6" fill="#9ebdf5"/>
<rect x="818.52" y="1335.6" width="59.7" height="67.4" fill="#aefc86"/>
<rect x="818.52" y="1331.7" width="59.7" height="3.9" fill="#e47e7e"/>
<rect x="818.52" y="1330.5" width="59.7" height="1.2" fill="#b4b4b4"/>
<rect x="818.52" y="1401.85" width="59.7" height="2.3" fill="#000"/>
<rect x="818.52" y="1334.45" width="59.7" height="2.3" fill="#000"/>
<rect x="818.52" y="1330.55" width="59.7" height="2.3" fill="#000"/>
<rect x="819.07" y="1330.5" width="58.6" height="260.1" fill="none" stroke="#000" stroke-width="2.3"/>
<rect x="847.27" y="1326.1" width="2.2" height="16.1" fill="#000"/>
<rect x="847.27" y="1399.2" width="2.2" height="5.3" fill="#000"/>
<rect x="833.37" y="1325.2" width="30" height="2" fill="#000"/>
<rect x="833.37" y="1328.2" width="30" height="2.2" fill="#000"/>
<rect x="833.37" y="1341.1" width="30" height="2.2" fill="#000"/>
<rect x="833.37" y="1398.1" width="30" height="2.2" fill="#000"/>
<rect x="833.37" y="1403.2" width="30" height="2.6" fill="#000"/>
<path d="M163.4 1195.2h0M176.96 1195.2h0M190.51 1195.2h0M204.07 1195.2h0M217.63 1195.2h0M231.19 1195.2h0M244.74 1195.2h0M258.3 1195.2h0M271.86 1195.2h0M285.42 1195.2h0M298.97 1195.2h0M312.53 1195.2h0M326.09 1195.2h0M339.65 1195.2h0M353.2 1195.2h0M366.76 1195.2h0M380.32 1195.2h0M393.88 1195.2h0M407.43 1195.2h0M420.99 1195.2h0M434.55 1195.2h0M448.11 1195.2h0M461.66 1195.2h0M475.22 1195.2h0M488.78 1195.2h0M502.34 1195.2h0M515.89 1195.2h0M529.45 1195.2h0M543.01 1195.2h0M556.56 1195.2h0M570.12 1195.2h0M583.68 1195.2h0M597.24 1195.2h0M610.79 1195.2h0M624.35 1195.2h0M637.91 1195.2h0M651.47 1195.2h0M665.02 1195.2h0M678.58 1195.2h0M692.14 1195.2h0M705.7 1195.2h0M719.25 1195.2h0M732.81 1195.2h0M746.37 1195.2h0M759.93 1195.2h0M773.48 1195.2h0M787.04 1195.2h0M800.6 1195.2h0M814.16 1195.2h0M827.71 1195.2h0M841.27 1195.2h0M854.83 1195.2h0M868.39 1195.2h0M881.94 1195.2h0M895.5 1195.2h0" stroke="#000" stroke-width="4.8" stroke-linecap="round"/>
<path d="M163.4 1401.7h0M176.96 1401.7h0M190.51 1401.7h0M204.07 1401.7h0M217.63 1401.7h0M231.19 1401.7h0M244.74 1401.7h0M258.3 1401.7h0M271.86 1401.7h0M285.42 1401.7h0M298.97 1401.7h0M312.53 1401.7h0M326.09 1401.7h0M339.65 1401.7h0M353.2 1401.7h0M366.76 1401.7h0M380.32 1401.7h0M393.88 1401.7h0M407.43 1401.7h0M420.99 1401.7h0M434.55 1401.7h0M448.11 1401.7h0M461.66 1401.7h0M475.22 1401.7h0M488.78 1401.7h0M502.34 1401.7h0M515.89 1401.7h0M529.45 1401.7h0M543.01 1401.7h0M556.56 1401.7h0M570.12 1401.7h0M583.68 1401.7h0M597.24 1401.7h0M610.79 1401.7h0M624.35 1401.7h0M637.91 1401.7h0M651.47 1401.7h0M665.02 1401.7h0M678.58 1401.7h0M692.14 1401.7h0M705.7 1401.7h0M719.25 1401.7h0M732.81 1401.7h0M746.37 1401.7h0M759.93 1401.7h0M773.48 1401.7h0M787.04 1401.7h0M800.6 1401.7h0M814.16 1401.7h0M827.71 1401.7h0M841.27 1401.7h0M854.83 1401.7h0M868.39 1401.7h0M881.94 1401.7h0M895.5 1401.7h0" stroke="#000" stroke-width="4.8" stroke-linecap="round"/>
<rect x="147.85" y="1136.95" width="4.3" height="453.65" fill="#000"/>
<rect x="130.9" y="1588.45" width="779.9" height="4.3" fill="#000"/>
<rect x="130.9" y="1532.01" width="19.1" height="4.3" fill="#000"/>
<rect x="130.9" y="1475.57" width="19.1" height="4.3" fill="#000"/>
<rect x="130.9" y="1419.14" width="19.1" height="4.3" fill="#000"/>
<rect x="130.9" y="1362.7" width="19.1" height="4.3" fill="#000"/>
<rect x="130.9" y="1306.26" width="19.1" height="4.3" fill="#000"/>
<rect x="130.9" y="1249.82" width="19.1" height="4.3" fill="#000"/>
<rect x="130.9" y="1193.39" width="19.1" height="4.3" fill="#000"/>
<rect x="130.9" y="1136.95" width="19.1" height="4.3" fill="#000"/>
<text class="tl" x="0" y="0" text-anchor="end" transform="translate(124.9 1601.4) scale(0.98 1.035)">0</text>
<text class="tl" x="0" y="0" text-anchor="end" transform="translate(124.9 1544.96) scale(0.98 1.035)">1,000</text>
<text class="tl" x="0" y="0" text-anchor="end" transform="translate(124.9 1488.52) scale(0.98 1.035)">2,000</text>
<text class="tl" x="0" y="0" text-anchor="end" transform="translate(124.9 1432.09) scale(0.98 1.035)">3,000</text>
<text class="tl" x="0" y="0" text-anchor="end" transform="translate(124.9 1375.65) scale(0.98 1.035)">4,000</text>
<text class="tl" x="0" y="0" text-anchor="end" transform="translate(124.9 1319.21) scale(0.98 1.035)">5,000</text>
<text class="tl" x="0" y="0" text-anchor="end" transform="translate(124.9 1262.77) scale(0.98 1.035)">6,000</text>
<text class="tl" x="0" y="0" text-anchor="end" transform="translate(124.9 1206.34) scale(0.98 1.035)">7,000</text>
<text class="tl" x="0" y="0" text-anchor="end" transform="translate(124.9 1149.9) scale(0.98 1.035)">8,000</text>
<rect x="208.05" y="1590.6" width="4.3" height="18.5" fill="#000"/>
<text class="xl" x="0" y="0" text-anchor="middle" transform="translate(209.3 1642.2) scale(0.945 1.035)">Mo.</text>
<rect x="299.16" y="1590.6" width="4.3" height="18.5" fill="#000"/>
<text class="xl" x="0" y="0" text-anchor="middle" transform="translate(300.41 1642.2) scale(0.945 1.035)">Tu.</text>
<rect x="390.27" y="1590.6" width="4.3" height="18.5" fill="#000"/>
<text class="xl" x="0" y="0" text-anchor="middle" transform="translate(391.52 1642.2) scale(0.945 1.035)">We.</text>
<rect x="481.38" y="1590.6" width="4.3" height="18.5" fill="#000"/>
<text class="xl" x="0" y="0" text-anchor="middle" transform="translate(482.63 1642.2) scale(0.945 1.035)">Th.</text>
<rect x="572.49" y="1590.6" width="4.3" height="18.5" fill="#000"/>
<text class="xl" x="0" y="0" text-anchor="middle" transform="translate(573.74 1642.2) scale(0.945 1.035)">Fr.</text>
<rect x="663.6" y="1590.6" width="4.3" height="18.5" fill="#000"/>
<text class="xl" x="0" y="0" text-anchor="middle" transform="translate(664.85 1642.2) scale(0.945 1.035)">Sa.</text>
<rect x="754.71" y="1590.6" width="4.3" height="18.5" fill="#000"/>
<text class="xl" x="0" y="0" text-anchor="middle" transform="translate(755.96 1642.2) scale(0.945 1.035)">Su.</text>
<rect x="845.82" y="1590.6" width="4.3" height="18.5" fill="#000"/>
<text class="xl" x="0" y="0" text-anchor="middle" transform="translate(847.07 1642.2) scale(0.945 1.035)">Mean</text>
<text class="yt" x="0" y="0" text-anchor="middle" transform="translate(36.7 1365.3) rotate(-90)">Energy (kcal)</text>
<text class="pl" x="1.6" y="1137">C</text>
<path d="M931.15 1196.7L932.55 1191.7A1.65 1.65 0 0 0 930.9 1190.05A1.65 1.65 0 0 0 929.25 1191.7L930.65 1196.7ZM930.99 1196.93L936.95 1196.52A1.9 1.9 0 0 0 938.09 1194.08A1.9 1.9 0 0 0 935.65 1192.95L930.81 1196.47ZM930.99 1196.47L926.15 1192.95A1.9 1.9 0 0 0 923.71 1194.08A1.9 1.9 0 0 0 924.85 1196.52L930.81 1196.93ZM930.7 1196.85L932.94 1202.4A1.9 1.9 0 0 0 935.61 1202.73A1.9 1.9 0 0 0 935.94 1200.06L931.1 1196.55ZM930.7 1196.55L925.86 1200.06A1.9 1.9 0 0 0 926.19 1202.73A1.9 1.9 0 0 0 928.86 1202.4L931.1 1196.85Z" fill="#000"/>
<text class="sy" x="929" y="1412.8" text-anchor="middle">#</text>
<rect x="39.3" y="1692.5" width="45.6" height="14" fill="#aefc86" stroke="#000" stroke-width="2.2"/>
<text class="lg" x="0" y="0" transform="translate(112.5 1706.8) scale(1 1.04)">EEE<tspan class="lgs" dx="-1.1" dy="6.3">ROW-ZONE 1</tspan></text>
<rect x="344.2" y="1693.2" width="45.4" height="13.1" fill="#fffe82" stroke="#000" stroke-width="2.2"/>
<text class="lg" x="0" y="0" transform="translate(418 1706.8) scale(1 1.04)">EEE<tspan class="lgs" dx="-1.1" dy="6.3">ROW-ZONE 2</tspan></text>
<rect x="647" y="1692.6" width="45.3" height="13.6" fill="#e47e7e" stroke="#000" stroke-width="2.2"/>
<text class="lg" x="0" y="0" transform="translate(721.4 1706.8) scale(1 1.04)">EEE<tspan class="lgs" dx="-1.1" dy="6.3">ROW-ZONE 3</tspan></text>
<rect x="275.6" y="1751" width="45.8" height="13.6" fill="#9ebdf5" stroke="#000" stroke-width="2.2"/>
<text class="lg" x="0" y="0" transform="translate(349.3 1765.8) scale(1 1.04)">E<tspan dx="-2.1">A</tspan><tspan class="lgs" dx="-1.1" dy="6.3">REC</tspan></text>
<rect x="471.5" y="1751.3" width="46" height="14.8" fill="#d3d3d3" stroke="#000" stroke-width="2.2"/>
<text class="lg" x="0" y="0" transform="translate(545.8 1765.8) scale(1 1.04)">EEE<tspan class="lgs" dx="-1.1" dy="6.3">NON-ROW</tspan></text>
</svg>
</body></html>
